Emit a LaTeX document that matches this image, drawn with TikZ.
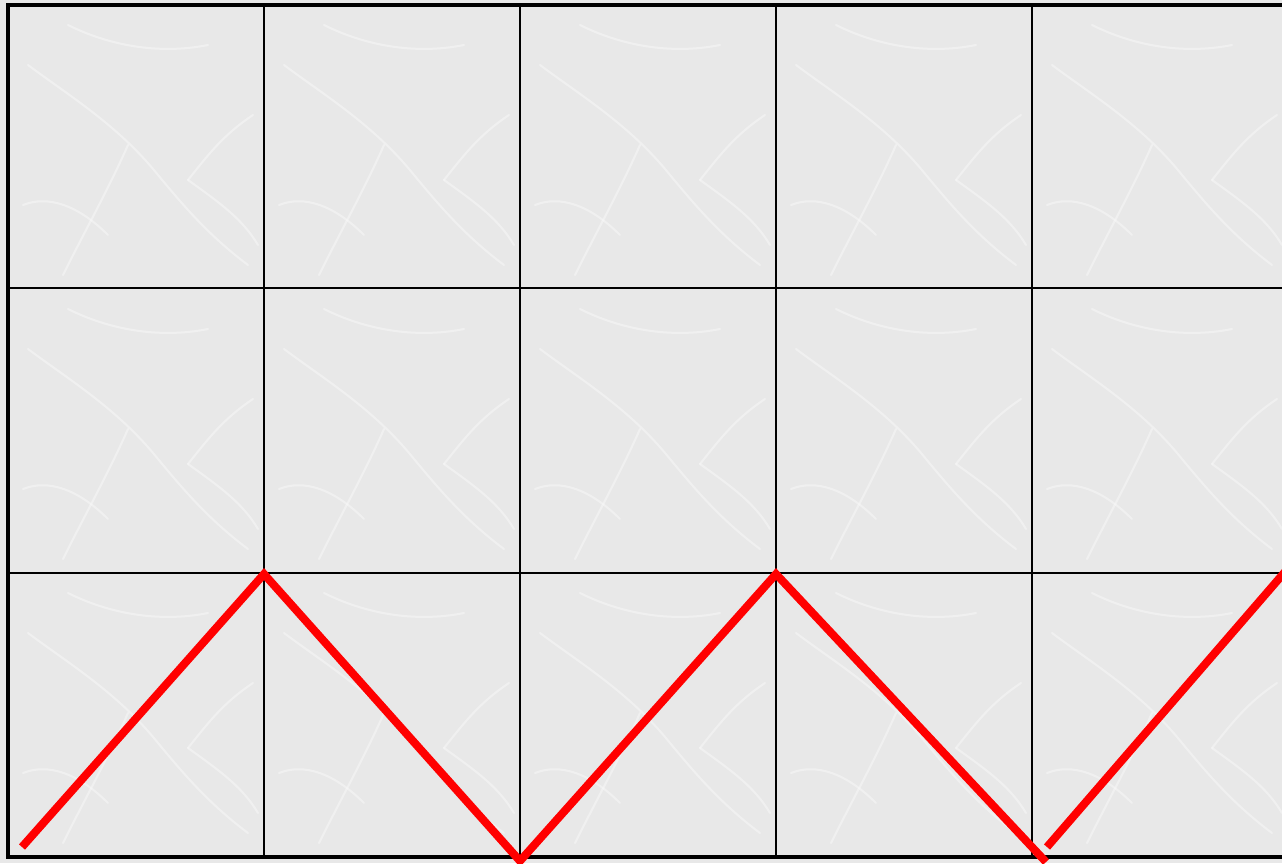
\documentclass[tikz,border=0pt]{standalone}
\definecolor{tileMarble}{RGB}{232,232,232}
\definecolor{tileVein}{RGB}{248,248,248}
\definecolor{tileGrout}{RGB}{0,0,0}
\definecolor{zigzagRed}{RGB}{255,0,0}
\begin{document}
\begin{tikzpicture}[x=1pt,y=-1pt,
      grout/.style={draw=tileGrout, line width=2pt},
      frame/.style={draw=tileGrout, line width=4.5pt},
      vein/.style={draw=tileVein, line width=2pt, line cap=round,
        opacity=.55},
      zigzag/.style={draw=zigzagRed, line width=8pt, line join=miter}]
      \useasboundingbox (0,0) rectangle (1282,863);
      \fill[tileMarble] (0,0) rectangle (1282,863);

      % marble veins, same in every tile
      \begin{scope}
        \clip (8,5) rectangle (1282,857);
        \foreach \col in {0,...,4} {
          \foreach \row in {0,...,2} {
            \begin{scope}[shift={(8+256*\col,5+284*\row)}]
              \draw[vein] (20,60) .. controls (60,90) and (110,120) .. (150,170)
                .. controls (175,200) and (200,230) .. (240,260);
              \draw[vein] (180,175) .. controls (200,150) and (215,130) .. (245,110);
              \draw[vein] (120,140) .. controls (100,185) and (80,220) .. (55,270);
              \draw[vein] (60,20) .. controls (100,40) and (150,50) .. (200,40);
              \draw[vein] (180,175) .. controls (215,200) and (235,215) .. (250,240);
              \draw[vein] (15,200) .. controls (40,190) and (70,200) .. (100,230);
            \end{scope}
          }
        }
      \end{scope}

      % grout lines
      \foreach \x in {264,520,776,1032}
        \draw[grout] (\x,5) -- (\x,857);
      \foreach \y in {288,573}
        \draw[grout] (8,\y) -- (1282,\y);

      % outer frame, open at the right
      \draw[frame] (1282,5) -- (8,5) -- (8,857) -- (1282,857);

      % red zigzag
      \coordinate (z0) at (22,847);
      \coordinate (z1) at (264,574);
      \coordinate (z2) at (520,861);
      \coordinate (z3) at (776,574);
      \coordinate (z4) at (1046,862);
      \coordinate (z5) at (1047,847);
      \coordinate (z6) at (1290,566);
      \begin{scope}
        \clip (0,0) rectangle (1282,863);
        \draw[zigzag] (z0) -- (z1) -- (z2) -- (z3) -- (z4);
        \draw[zigzag] (z5) -- (z6);
      \end{scope}
    \end{tikzpicture}
\end{document}
